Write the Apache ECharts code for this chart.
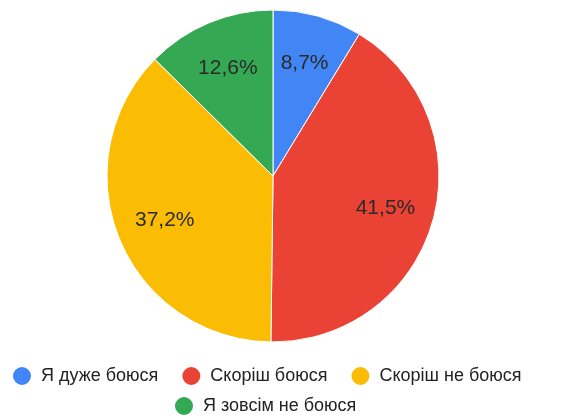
<!DOCTYPE html>
<html>
<head>
<meta charset="utf-8">
<script src="https://cdn.jsdelivr.net/npm/echarts@6/dist/echarts.min.js"></script>
<style>
html,body{margin:0;padding:0;background:#fff;}
#chart{width:571px;height:415px;}
</style>
</head>
<body>
<div id="chart"></div>
<script>
const categories = ["Я дуже боюся", "Скоріш боюся", "Скоріш не боюся", "Я зовсім не боюся"];
const values = [8.7, 41.5, 37.2, 12.6];
const labels = ["8,7%", "41,5%", "37,2%", "12,6%"];
const colors = ["#4285F4", "#EA4335", "#FBBC04", "#34A853"];

const chart = echarts.init(document.getElementById('chart'));
const pieData = categories.map((c, i) => ({ name: c, value: values[i], itemStyle: { color: colors[i] } }));
const labelData = categories.map((c, i) => ({ name: c, value: values[i], label: { formatter: labels[i] } }));

const legendCommon = {
  orient: 'horizontal',
  icon: 'circle',
  itemWidth: 20,
  itemHeight: 20,
  itemGap: 22,
  padding: 0,
  textStyle: { fontFamily: 'Liberation Sans, Arial, sans-serif', fontSize: 18, color: '#222', padding: [0, 0, 0, 4] }
};

chart.setOption({
  animation: false,
  color: colors,
  legend: [
    Object.assign({}, legendCommon, { left: 11, top: 365, data: categories.slice(0, 3) }),
    Object.assign({}, legendCommon, { left: 173, top: 395, data: categories.slice(3) })
  ],
  series: [
    {
      type: 'pie',
      center: [273, 176],
      radius: [0, 166],
      startAngle: 90,
      clockwise: true,
      label: { show: false },
      labelLine: { show: false },
      itemStyle: { borderColor: '#fff', borderWidth: 1 },
      emphasis: { disabled: true },
      data: pieData
    },
    {
      type: 'pie',
      center: [273, 176],
      radius: [62, 166],
      startAngle: 90,
      clockwise: true,
      silent: true,
      legendHoverLink: false,
      itemStyle: { color: 'rgba(0,0,0,0)' },
      label: { show: true, position: 'inside', fontFamily: 'Liberation Sans, Arial, sans-serif', fontSize: 21, color: '#2a2a2a' },
      labelLine: { show: false },
      emphasis: { disabled: true },
      data: labelData
    }
  ]
});
</script>
</body>
</html>
